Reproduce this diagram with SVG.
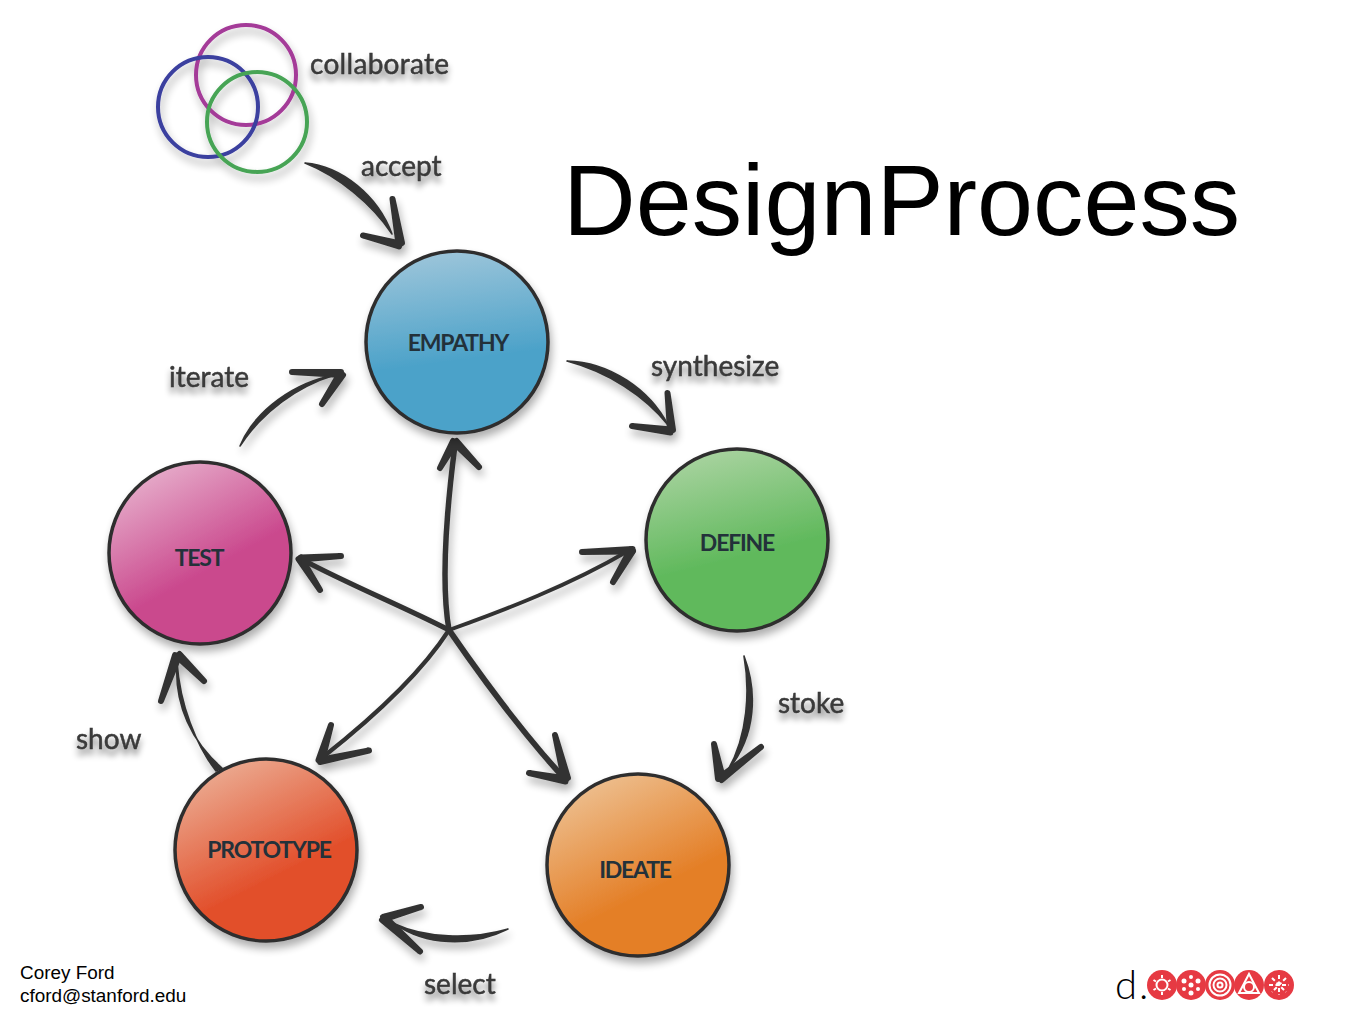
<svg xmlns="http://www.w3.org/2000/svg" width="1365" height="1024" viewBox="0 0 1365 1024">
<style>
.lens{fill:#333;stroke:#333;stroke-width:1.600;stroke-linejoin:round}
.shaft{fill:none;stroke:#333;stroke-linecap:round;stroke-linejoin:round}
.barb{fill:#333;stroke:#333;stroke-width:6;stroke-linejoin:round}
.ball{stroke:#2f2d2e;stroke-width:3.5}
.lab{font-family:"Lato","Open Sans",sans-serif;font-size:28px;fill:#3a3a3a;stroke:#3a3a3a;stroke-width:.5;filter:url(#ts)}
.nm{font-family:"Lato","Open Sans",sans-serif;font-weight:700;font-size:23px;fill:#23313a;text-anchor:middle;letter-spacing:-1.2px}
.ring{fill:none;stroke-width:4}
.sans{font-family:"Liberation Sans",Arial,sans-serif}
.lg{fill:#e63a43}.lw{fill:none;stroke:#fff;stroke-width:2}.ld{fill:#fff}
</style>
<defs>
<filter id="ds" x="-20%" y="-20%" width="140%" height="140%"><feGaussianBlur in="SourceAlpha" stdDeviation="4"/><feOffset dx="2" dy="6"/><feComponentTransfer><feFuncA type="linear" slope="0.32"/></feComponentTransfer><feMerge><feMergeNode/><feMergeNode in="SourceGraphic"/></feMerge></filter>
<filter id="ts" x="-20%" y="-40%" width="140%" height="200%"><feGaussianBlur in="SourceAlpha" stdDeviation="3"/><feOffset dy="6"/><feComponentTransfer><feFuncA type="linear" slope="0.5"/></feComponentTransfer><feMerge><feMergeNode/><feMergeNode in="SourceGraphic"/></feMerge></filter>
<linearGradient id="gb" x1=".42" y1="0" x2=".5" y2=".6"><stop offset="0" stop-color="#9cc5da"/><stop offset="1" stop-color="#4ca2c9"/></linearGradient>
<linearGradient id="gg" x1=".35" y1="0" x2=".5" y2=".6"><stop offset="0" stop-color="#a9d3a0"/><stop offset="1" stop-color="#60b95c"/></linearGradient>
<linearGradient id="go" x1=".25" y1=".05" x2=".55" y2=".65"><stop offset="0" stop-color="#edbd8c"/><stop offset="1" stop-color="#e47f27"/></linearGradient>
<linearGradient id="gr" x1=".25" y1=".05" x2=".55" y2=".65"><stop offset="0" stop-color="#eba88e"/><stop offset="1" stop-color="#e24f2b"/></linearGradient>
<linearGradient id="gp" x1=".25" y1=".05" x2=".55" y2=".6"><stop offset="0" stop-color="#e5a9c8"/><stop offset="1" stop-color="#ca488d"/></linearGradient>
</defs>
<rect width="1365" height="1024" fill="#fff"/>
<g id="connectors" filter="url(#ds)">
<g id="c-accept"><path class="lens" d="M305 163C342 166 378 196 392 234C372 204 338 176 305 163Z"/><polygon class="barb" points="363,235.500 400,243.500 399,246.500"/><polygon class="barb" points="392.500,199 402,243 398.500,244"/></g>
<g id="c-synthesize"><path class="lens" d="M567 361C610 362 650 390 668 425C645 396 608 372 567 361Z"/><polygon class="barb" points="632,426 671,429.500 670.500,432.500"/><polygon class="barb" points="667.500,393 673,430 670,430.500"/></g>
<g id="c-stoke"><path class="lens" d="M744 656C757 690 757 735 728 770C748 735 750 690 744 656Z"/><polygon class="barb" points="714,744 723,778 718,779"/><polygon class="barb" points="761,747 721.600,780 719.500,777.500"/></g>
<g id="c-select"><path class="lens" d="M508 929C470 948 425 945 395 924C425 938 470 940 508 929Z"/><polygon class="barb" points="421,907 384,919.500 383,917"/><polygon class="barb" points="420,951.500 382,920 385,917"/></g>
<g id="c-show"><path class="lens" d="M222 768C192 742 174 705 177 662C180 705 196 745 216 771Z"/><polygon class="barb" points="161,701 175,655 179,656.500"/><polygon class="barb" points="204,681 177,656.500 179.500,654"/></g>
<g id="c-iterate"><path class="lens" d="M240 446C255 410 295 382 335 375C298 386 262 412 240 446Z"/><polygon class="barb" points="292,372 341,372 341,375"/><polygon class="barb" points="322,404 340,373 343,375"/></g>
<g id="c-empathy"><path class="shaft" stroke-width="5.5" d="M449 630C442 590 444 530 455 445"/><polygon class="barb" points="440,468 453,441 456,443"/><polygon class="barb" points="479,467 454,443 456.500,441"/></g>
<g id="c-define"><path class="shaft" stroke-width="3.800" d="M449 630C505 610 570 585 628 551"/><polygon class="barb" points="582,552 632.500,549 632.500,551.500"/><polygon class="barb" points="613,582 630.500,549.500 633,551"/></g>
<g id="c-ideate"><path class="shaft" stroke-width="5.800" d="M449 630C480 675 520 730 563 777"/><polygon class="barb" points="529,773 566,778.500 565.500,781.500"/><polygon class="barb" points="555,735 568,778 564,779"/></g>
<g id="c-prototype"><path class="shaft" stroke-width="4.200" d="M449 630C420 675 370 720 323 757"/><polygon class="barb" points="369,750.500 320,762 319.500,760"/><polygon class="barb" points="331,725 322,761 318.500,760"/></g>
<g id="c-test"><path class="shaft" stroke-width="5" d="M449 630C400 605 350 585 303 560"/><polygon class="barb" points="341,556 301,559.500 301,557.500"/><polygon class="barb" points="320,590 298.500,559 301,557.500"/></g>
</g>
<g id="rings" filter="url(#ds)">
<circle class="ring" cx="246" cy="75" r="50" stroke="#a43a98"/>
<circle class="ring" cx="208" cy="107" r="50" stroke="#3b3f9f"/>
<circle class="ring" cx="257" cy="122" r="50" stroke="#46a455"/>
</g>
<g id="empathy"><circle class="ball" cx="457" cy="342" r="91" fill="url(#gb)" filter="url(#ds)"/><text class="nm" x="458" y="351">EMPATHY</text></g>
<g id="define"><circle class="ball" cx="737" cy="540" r="91" fill="url(#gg)" filter="url(#ds)"/><text class="nm" x="737" y="551">DEFINE</text></g>
<g id="ideate"><circle class="ball" cx="638" cy="865" r="91" fill="url(#go)" filter="url(#ds)"/><text class="nm" x="635" y="878">IDEATE</text></g>
<g id="prototype"><circle class="ball" cx="266" cy="850" r="91" fill="url(#gr)" filter="url(#ds)"/><text class="nm" x="269" y="858">PROTOTYPE</text></g>
<g id="test"><circle class="ball" cx="200" cy="553" r="91" fill="url(#gp)" filter="url(#ds)"/><text class="nm" x="199" y="566">TEST</text></g>
<g id="labels">
<text class="lab" x="310" y="74" letter-spacing=".3">collaborate</text>
<text class="lab" x="361" y="176">accept</text>
<text class="lab" x="651" y="376">synthesize</text>
<text class="lab" x="778" y="713">stoke</text>
<text class="lab" x="424" y="994">select</text>
<text class="lab" x="76" y="749">show</text>
<text class="lab" x="169" y="387">iterate</text>
</g>
<text class="sans" x="563" y="235" font-size="100.7" fill="#000">DesignProcess</text>
<g class="sans" font-size="18.9" fill="#000"><text x="20" y="979">Corey Ford</text><text x="20" y="1002">cford@stanford.edu</text></g>
<g id="logo">
<text x="1115" y="999" font-family="Lato,sans-serif" font-weight="300" font-size="40" letter-spacing="2" fill="#000">d.</text>
<circle class="lg" cx="1162" cy="985" r="15"/><circle class="lg" cx="1191" cy="985" r="15"/><circle class="lg" cx="1220" cy="985" r="15"/><circle class="lg" cx="1249" cy="985" r="15"/><circle class="lg" cx="1279" cy="985" r="15"/>
<circle class="lw" cx="1162" cy="985" r="5.5" stroke-width="3"/><path class="lw" stroke-width="3" d="M1162 975v3M1162 992v3M1153.5 980l2.5 1.5M1168 988.5l2.5 1.5M1170.500 980l-2.500 1.500M1156 988.500l-2.500 1.500"/>
<g class="ld"><circle cx="1191" cy="985" r="2.500"/><circle cx="1191" cy="977" r="2"/><circle cx="1198" cy="981" r="2.500"/><circle cx="1198" cy="989" r="2"/><circle cx="1191" cy="993" r="2.500"/><circle cx="1184" cy="989" r="2"/><circle cx="1184" cy="981" r="2.500"/></g>
<circle class="lw" cx="1220" cy="985" r="10.500" stroke-width="1.500"/><circle class="lw" cx="1220" cy="985" r="6.500" stroke-width="1.500"/><circle class="lw" cx="1220" cy="985" r="2.500" stroke-width="1.500"/>
<path class="lw" stroke-width="1.300" d="M1249 974L1259 993H1239Z"/><circle class="lw" stroke-width="1.300" cx="1249" cy="987" r="5"/>
<path class="lw" d="M1279 975V995M1269 985H1289M1272 978L1286 992M1286 978L1272 992" stroke-dasharray="4 2.500"/>
</g>
</svg>
